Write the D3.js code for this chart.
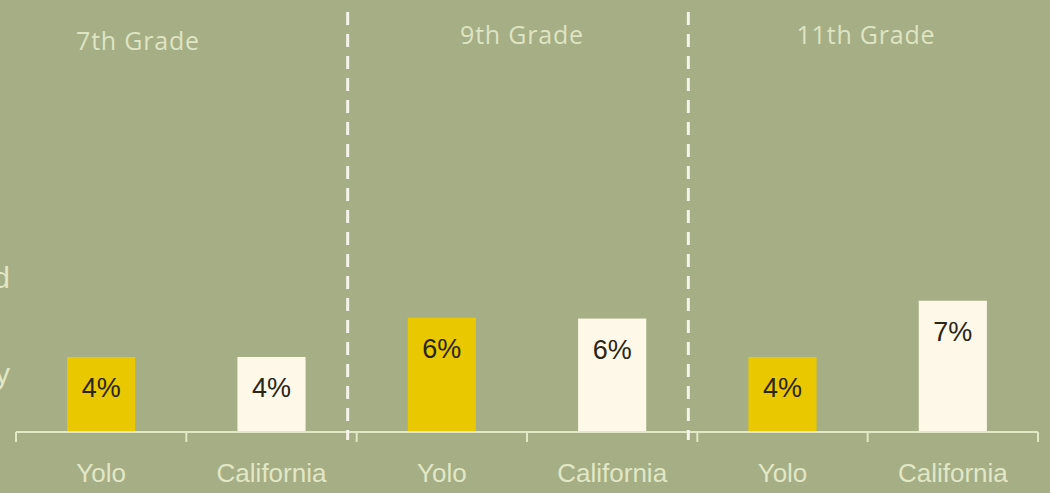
<!DOCTYPE html>
<html><head><meta charset="utf-8">
<script src="https://cdn.jsdelivr.net/npm/d3@7"></script>
<style>
html,body{margin:0;padding:0;background:#a5ae85;overflow:hidden;}
svg{display:block;}
</style></head>
<body>
<svg id="chart" width="1050" height="493"></svg>
<script>
const grades = ["7th Grade", "9th Grade", "11th Grade"];
const regions = ["Yolo", "California"];
const yoloValues = [4.0, 6.1, 4.0];
const californiaValues = [4.0, 6.05, 7.0];
const valueLabels = [["4%", "4%"], ["6%", "6%"], ["4%", "7%"]];
const sideTexts = ["d", "y"];

const W = 1050, H = 493;
const bg = "#a5ae85", cream = "#e2e7c6";
const svg = d3.select("#chart");
svg.append("rect").attr("width", W).attr("height", H).attr("fill", bg);

const x0 = d3.scaleBand().domain(grades).range([16, 1038]).paddingInner(0).paddingOuter(0);
const x1 = d3.scaleBand().domain(regions).range([0, x0.bandwidth()]).paddingInner(0.6).paddingOuter(0.3);
const y = d3.scaleLinear().domain([0, 8]).range([432, 282]);

const data = [];
grades.forEach((g, i) => {
  data.push({grade: g, region: "Yolo", value: yoloValues[i], label: valueLabels[i][0]});
  data.push({grade: g, region: "California", value: californiaValues[i], label: valueLabels[i][1]});
});
const color = d3.scaleOrdinal().domain(regions).range(["#eac800", "#fdf8e8"]);

// bars
svg.append("g").selectAll("rect").data(data).join("rect")
  .attr("x", d => x0(d.grade) + x1(d.region))
  .attr("y", d => y(d.value))
  .attr("width", x1.bandwidth())
  .attr("height", d => y(0) - y(d.value))
  .attr("fill", d => color(d.region));

// value labels
svg.append("g").selectAll("text").data(data).join("text")
  .attr("x", d => x0(d.grade) + x1(d.region) + x1.bandwidth() / 2)
  .attr("y", d => y(d.value) + 40)
  .attr("text-anchor", "middle")
  .attr("font-family", "Liberation Sans, Arial, sans-serif")
  .attr("font-size", 27)
  .attr("fill", "#2a2618")
  .text(d => d.label);

// axis baseline and ticks at boundaries
const axisG = svg.append("g");
axisG.append("line").attr("x1", x0.range()[0]).attr("x2", x0.range()[1])
  .attr("y1", y(0)).attr("y2", y(0)).attr("stroke", cream).attr("stroke-width", 2);
const boundaries = [];
grades.forEach(g => {
  boundaries.push(x0(g));
  boundaries.push(x0(g) + x0.bandwidth() / 2);
});
boundaries.push(x0.range()[1]);
axisG.selectAll("line.tick").data(boundaries).join("line").attr("class", "tick")
  .attr("x1", d => d).attr("x2", d => d).attr("y1", y(0)).attr("y2", y(0) + 10)
  .attr("stroke", cream).attr("stroke-width", 2);

// category labels via d3 axis
const catScale = d3.scaleBand().domain(data.map(d => d.grade + "|" + d.region)).range(x0.range());
const ax = svg.append("g").attr("transform", `translate(0,${y(0)})`)
  .call(d3.axisBottom(catScale).tickSize(0).tickPadding(32).tickFormat(k => k.split("|")[1]));
ax.select(".domain").remove();
ax.selectAll("text").attr("font-family", "Liberation Sans, Arial, sans-serif")
  .attr("font-size", 26).attr("fill", cream);

// dashed separators
const seps = [x0(grades[1]) - 9, x0(grades[2]) - 9];
svg.append("g").selectAll("line").data(seps).join("line")
  .attr("x1", d => d).attr("x2", d => d).attr("y1", 12).attr("y2", 440)
  .attr("stroke", "#f4f4ea").attr("stroke-width", 3).attr("stroke-dasharray", "13,9");

// grade titles
const titleX = [138, 522, 866], titleY = [50, 44, 44];
svg.append("g").selectAll("text").data(grades).join("text")
  .attr("x", (d, i) => titleX[i]).attr("y", (d, i) => titleY[i])
  .attr("text-anchor", "middle")
  .attr("font-family", "Open Sans, sans-serif")
  .attr("font-size", 25)
  .attr("letter-spacing", 0.8)
  .attr("fill", "#dfe4c2")
  .text(d => d);

// clipped side texts (cut off at the left edge, as in the reference)
const sideY = [288, 384];
svg.append("g").selectAll("text").data(sideTexts).join("text")
  .attr("x", 10).attr("y", (d, i) => sideY[i]).attr("text-anchor", "end")
  .attr("font-family", "Liberation Sans, Arial, sans-serif").attr("font-size", 30)
  .attr("fill", cream).text(d => d);
</script>
</body></html>
